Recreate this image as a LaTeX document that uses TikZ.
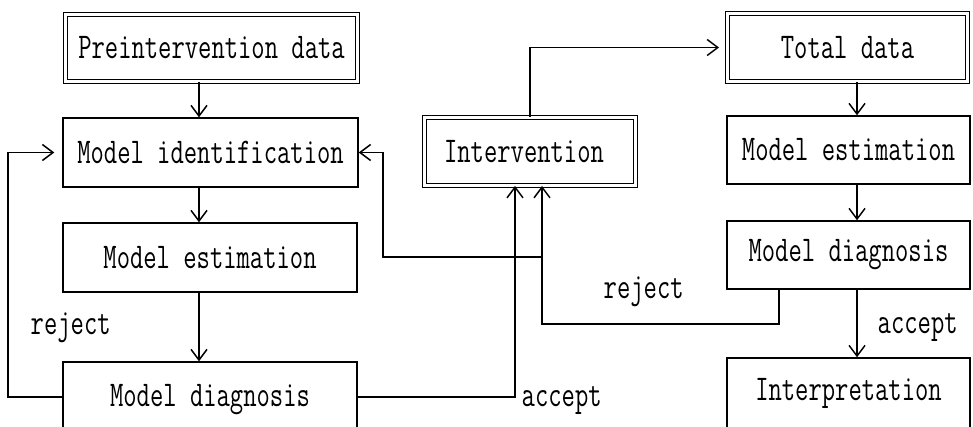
\documentclass[tikz,border=0pt]{standalone}
\usepackage{graphicx}
\usetikzlibrary{arrows.meta}
\newcommand{\tallt}[1]{\scalebox{1}[1.4]{#1}}
\tikzset{
  lbl/.style={inner sep=0pt, font=\ttfamily\fontsize{19.4}{20}\selectfont},
  sbox/.style={lbl, draw, line width=1.1pt},
  dbox/.style={lbl, draw, double, double distance=2.2pt, line width=0.7pt},
  wh/.style 2 args={minimum width=#1*0.75pt, minimum height=#2*0.75pt},
  arr/.style={-{Straight Barb[length=8pt, width=12pt, line width=1.1pt]}}
}

\begin{document}
\begin{tikzpicture}[x=0.75pt, y=-0.75pt, line width=1.1pt]
    \useasboundingbox (0,0) rectangle (973,427);
    % pre-intervention series (left column)
    \node[dbox, wh={292}{67}] (pre)   at (211.5,48)  {\tallt{Preintervention data}};
    \node[sbox, wh={295}{69}] (ident) at (210.5,152.5) {\tallt{Model identification}};
    \node[sbox, wh={294}{69}] (est1)  at (210,257.5) {\tallt{Model estimation}};
    \node[sbox, wh={294}{76}] (diag1) at (210,400)   {\tallt{Model diagnosis}};
    % intervention
    \node[dbox, wh={211}{68}] (interv) at (530,151.5) {\tallt{Intervention}\hspace*{9pt}};
    % total series (right column)
    \node[dbox, wh={240}{68}] (total)  at (847.5,47.5) {\tallt{Total data}};
    \node[sbox, wh={243}{68}] (est2)   at (848.5,150) {\tallt{Model estimation}};
    \node[sbox, wh={243}{68}] (diag2)  at (848.5,255) {\tallt{Model diagnosis}};
    \node[sbox, wh={243}{70}] (interp) at (848.5,393) {\tallt{Interpretation}};
    % columns of the vertical arrows
    \coordinate (lx) at (199,0);
    \coordinate (rx) at (857,0);
    \foreach \a/\b in {pre/ident, ident/est1, est1/diag1} {
      \draw[arr] (\a.south -| lx) -- (\b.north -| lx);
    }
    \foreach \a/\b in {total/est2, est2/diag2, diag2/interp} {
      \draw[arr] (\a.south -| rx) -- (\b.north -| rx);
    }
    % reject loop, left
    \coordinate (rej1) at (8,397);
    \draw[arr, shorten >=6pt] (diag1.west |- rej1) -- (rej1) |- (ident.west);
    \node[lbl, anchor=west] (rejl) at (30,328) {\tallt{reject}};
    % accept, left
    \coordinate (acc1) at (515,397);
    \draw[arr] (diag1.east |- acc1) -| (interv.south -| acc1);
    \node[lbl, anchor=west] (accl) at (521,400) {\tallt{accept}};
    % reject, right
    \coordinate (rej2) at (542,324);
    \coordinate (rej2r) at (779,0);
    \draw[arr] (diag2.south -| rej2r) |- (rej2) -- (interv.south -| rej2);
    \node[lbl, anchor=west] (rejm) at (603,292) {\tallt{reject}};
    \coordinate (br) at (383,257);
    \draw[arr] (rej2 |- br) -- (br) |- (ident.east);
    % intervention to total data
    \draw[arr, shorten >=6pt] (interv.north) |- (total.west);
    \node[lbl, anchor=west] (accr) at (877,327) {\tallt{accept}};
\end{tikzpicture}
\end{document}
